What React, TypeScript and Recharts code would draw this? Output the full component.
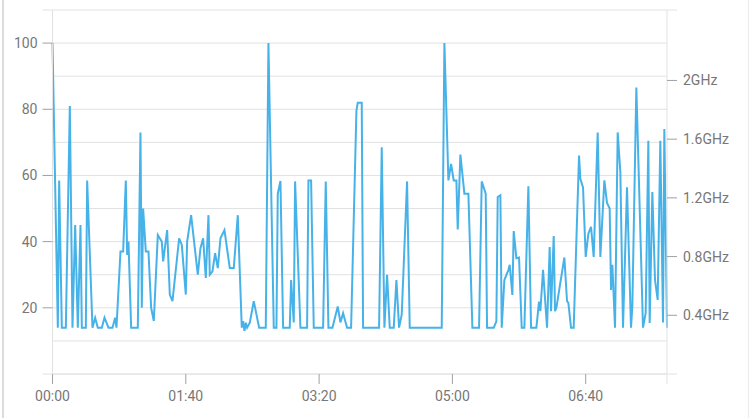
import React from 'react';
import { LineChart, Line, XAxis, YAxis, CartesianGrid } from 'recharts';

const TIMES = [
  0, 4, 5, 7, 10, 13, 15, 17, 19, 21, 22, 25, 26, 30, 32, 34, 37, 39, 42, 45, 47, 48, 51, 53, 55, 56, 57, 59, 64, 66,
  67, 68, 70, 72, 74, 76, 79, 82, 83, 86, 88, 90, 95, 97, 100, 101, 104, 109, 111, 113, 115, 117, 118, 120, 122, 124,
  126, 129, 133, 136, 139, 142, 143, 144, 145, 146, 148, 151, 155, 160, 162, 166, 168, 169, 171, 173, 178, 179, 181,
  182, 186, 191, 192, 194, 196, 203, 205, 207, 210, 214, 216, 218, 221, 224, 228, 229, 232, 233, 245, 247, 249, 251,
  253, 256, 258, 260, 262, 266, 268, 292, 294, 297, 299, 301, 303, 304, 306, 309, 312, 315, 320, 322, 325, 326, 331,
  333, 334, 336, 337, 339, 342, 343, 345, 346, 348, 350, 352, 354, 357, 359, 363, 365, 366, 368, 371, 373, 374, 376,
  377, 378, 384, 386, 387, 389, 391, 395, 396, 398, 400, 402, 404, 406, 409, 411, 414, 416, 418, 419, 420, 422, 424,
  426, 428, 431, 434, 435, 438, 443, 445, 447, 448, 450, 452, 454, 456, 458, 459, 461,
];

const CPU = [
  100, 14, 58.5, 14, 14, 81, 14, 45, 14, 45, 14, 14, 58.5, 14, 17, 14, 14, 17, 14, 14, 17, 14, 37, 37, 58.5, 36, 40, 14, 14, 73,
  20, 50, 37, 37, 20, 16, 42, 40, 34, 43.5, 24, 22, 41, 39, 24, 40, 48, 30, 38, 41, 29, 48, 30, 31, 36.5, 32,
  41, 43.5, 32, 32, 48, 14, 16, 13, 15.5, 14, 15.5, 22, 14, 14, 100, 14, 14, 54.5, 58.3, 14, 14, 28.4, 15.6,
  58.2, 14, 14, 58.5, 58.5, 14, 14, 58.2, 14, 14, 20.4, 15.6, 18.4, 14, 14, 79.5, 82, 82, 14, 14, 68.5, 14, 30,
  14, 14, 28.4, 14, 18, 58.2, 14, 14, 100, 58.5, 63.5, 58.5, 58.5, 43.7, 66.3, 54.5, 54.5, 14, 14, 58.2, 54.5, 14, 14,
  15.9, 53.5, 54, 14, 28.4, 31.4, 33, 23.9, 43.2, 35, 35.2, 14, 14, 56.7, 14, 14, 21.9, 19, 31.5, 14, 38.4, 19, 41.7,
  19, 20, 35.2, 22, 21.5, 14, 14, 66, 59, 56.4, 35.4, 42.4, 44.5, 35.4, 73, 35.4, 58.5, 51.7, 50, 25.4, 33, 14, 73,
  61, 14, 56.4, 14, 20.4, 86.6, 14, 18.4, 70.5, 15.4, 55, 28.4, 22.4, 70.5, 15.6, 74, 14,
];

const LEFT_TICKS = [0, 10, 20, 30, 40, 50, 60, 70, 80, 90, 100, 110];
const LEFT_LABELED = [20, 40, 60, 80, 100];
const RIGHT_TICKS = [0, 0.4, 0.8, 1.2, 1.6, 2.0, 2.48];
const RIGHT_LABELED = [0.4, 0.8, 1.2, 1.6, 2.0];
const X_TICKS = [0, 100, 200, 300, 400, 461];
const X_LABELED = [0, 100, 200, 300, 400];

const data = TIMES.map((t, i) => ({ t, cpu: CPU[i] }));

const GRID = '#e2e2e2';
const TICK = '#a0a0a0';
const TEXT = '#777777';
const FONT = 'Roboto, sans-serif';

const fmtTime = (m: number) => {
  const h = Math.floor(m / 60);
  const mm = m % 60;
  return `${String(h).padStart(2, '0')}:${String(mm).padStart(2, '0')}`;
};

const LeftTick = (props: any) => {
  const { x, y, payload } = props;
  const v = payload.value;
  const axisX = x + 15;
  const labeled = LEFT_LABELED.includes(v);
  const edge = v === 0 || v === 110;
  if (!labeled && !edge) return <g />;
  return (
    <g>
      <line x1={axisX - 10} x2={axisX} y1={y} y2={y} stroke={labeled ? TICK : GRID} strokeWidth={1} />
      {labeled && (
        <text x={x} y={y} dy="0.355em" textAnchor="end" fill={TEXT} fontSize={14} fontFamily={FONT}>
          {v}
        </text>
      )}
    </g>
  );
};

const RightTick = (props: any) => {
  const { x, y, payload } = props;
  const v = payload.value;
  const axisX = x - 16;
  const labeled = RIGHT_LABELED.includes(v);
  return (
    <g>
      <line x1={axisX} x2={axisX + 10} y1={y} y2={y} stroke={labeled ? TICK : GRID} strokeWidth={1} />
      {labeled && (
        <text x={x} y={y} dy="0.355em" textAnchor="start" fill={TEXT} fontSize={14} fontFamily={FONT}>
          {`${v}GHz`}
        </text>
      )}
    </g>
  );
};

const BottomTick = (props: any) => {
  const { x, y, payload } = props;
  const v = payload.value;
  const axisY = y - 17.5;
  const labeled = X_LABELED.includes(v);
  return (
    <g>
      <line x1={x} x2={x} y1={axisY} y2={axisY + 10} stroke={labeled ? TICK : GRID} strokeWidth={1} />
      {labeled && (
        <text x={x} y={y} dy="0.71em" textAnchor="middle" fill={TEXT} fontSize={14} fontFamily={FONT}>
          {fmtTime(v)}
        </text>
      )}
    </g>
  );
};

export default function App() {
  return (
    <div style={{ position: 'absolute', left: 0, top: 0, width: 750, height: 418, background: '#fff', fontFamily: FONT }}>
      <div style={{ position: 'absolute', left: 2, top: 0, width: 1.5, height: 418, background: '#dcdcdc' }} />
      <div style={{ position: 'absolute', left: 748, top: 0, width: 1, height: 418, background: '#ececec' }} />
      <LineChart width={750} height={418} data={data} margin={{ top: 10, right: 0, bottom: 0, left: 0 }}>
        <CartesianGrid vertical={false} stroke={GRID} yAxisId="left" />
        <XAxis
          dataKey="t"
          type="number"
          domain={[0, 461]}
          ticks={X_TICKS}
          interval={0}
          height={44}
          axisLine={{ stroke: GRID }}
          tickLine={false}
          tickSize={10}
          tickMargin={7.5}
          tick={<BottomTick />}
        />
        <YAxis
          yAxisId="left"
          orientation="left"
          width={52.5}
          domain={[0, 110]}
          ticks={LEFT_TICKS}
          interval={0}
          axisLine={{ stroke: GRID }}
          tickLine={false}
          tickSize={10}
          tickMargin={5}
          tick={<LeftTick />}
        />
        <YAxis
          yAxisId="right"
          orientation="right"
          width={83}
          domain={[0, 2.48]}
          allowDataOverflow
          ticks={RIGHT_TICKS}
          interval={0}
          axisLine={{ stroke: GRID }}
          tickLine={false}
          tickSize={10}
          tickMargin={6}
          tick={<RightTick />}
        />
        <Line
          yAxisId="left"
          type="linear"
          dataKey="cpu"
          stroke="#47B2E8"
          strokeWidth={2}
          dot={false}
          activeDot={false}
          isAnimationActive={false}
        />
      </LineChart>
    </div>
  );
}
